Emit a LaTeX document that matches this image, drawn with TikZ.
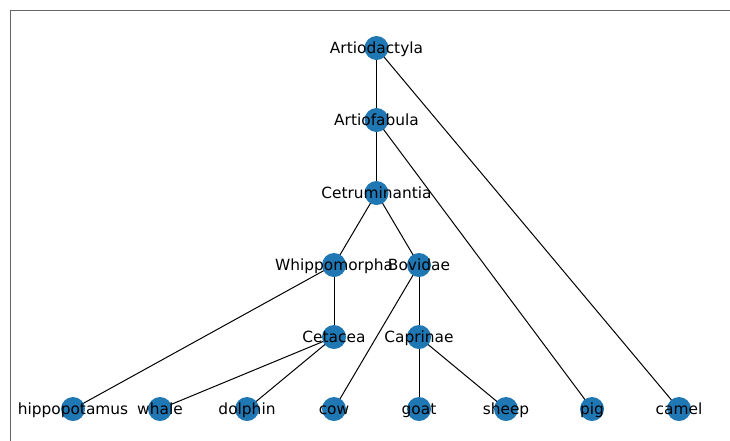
\documentclass[tikz,border=0pt]{standalone}
\usepackage{fontspec}
\setmainfont{DejaVu Sans}
\definecolor{nodeblue}{HTML}{1F77B4}
\pgfdeclarelayer{background}
\pgfsetlayers{background,main}
\tikzset{
  vert/.style={circle, fill=nodeblue, draw=none, minimum size=24pt, inner sep=0pt},
  lbl/.style={font=\fontsize{15.4pt}{18pt}\selectfont, text=black, inner sep=0pt,
              anchor=base},
  edge/.style={draw=black, line width=1pt},
  frame/.style={draw=black!60, line width=1.1pt}
}
% a vertex: name, position, caption printed across it
\newcommand\taxon[3]{%
  \node[vert] (#1) at (#2) {};
  \node[lbl] (#1-name) at ([yshift=-5.2pt]#1.center) {#3};}
\begin{document}
\begin{tikzpicture}[x=1pt,y=-1pt]
  \useasboundingbox (0,0) rectangle (730,440);
  \clip (0,0) rectangle (730,440);
  % axes frame, running past the right and bottom edges
  \draw[frame] (10.5,10.5) rectangle (760,470);

  % inner clades
  \taxon{artio}{376.5,48}{Artiodactyla}
  \taxon{fab}{376.5,120}{Artiofabula}
  \taxon{cet}{376.5,193}{Cetruminantia}
  \taxon{whip}{334,265}{Whippomorpha}
  \taxon{bov}{419,265}{Bovidae}
  \taxon{ceta}{334,337}{Cetacea}
  \taxon{cap}{419,337}{Caprinae}

  % leaves
  \taxon{hippo}{73,409}{hippopotamus}
  \taxon{whale}{160,409}{whale}
  \taxon{dolphin}{247,409}{dolphin}
  \taxon{cow}{334,409}{cow}
  \taxon{goat}{419,409}{goat}
  \taxon{sheep}{506,409}{sheep}
  \taxon{pig}{592,409}{pig}
  \taxon{camel}{679,409}{camel}

  % tree edges, drawn beneath the vertices
  \begin{pgfonlayer}{background}
    \draw[edge] (artio.center) -- (fab.center);
    \draw[edge] (artio.center) -- (camel.center);
    \draw[edge] (fab.center) -- (cet.center);
    \draw[edge] (fab.center) -- (pig.center);
    \draw[edge] (cet.center) -- (whip.center);
    \draw[edge] (cet.center) -- (bov.center);
    \draw[edge] (whip.center) -- (hippo.center);
    \draw[edge] (whip.center) -- (ceta.center);
    \draw[edge] (ceta.center) -- (whale.center);
    \draw[edge] (ceta.center) -- (dolphin.center);
    \draw[edge] (bov.center) -- (cow.center);
    \draw[edge] (bov.center) -- (cap.center);
    \draw[edge] (cap.center) -- (goat.center);
    \draw[edge] (cap.center) -- (sheep.center);
  \end{pgfonlayer}
\end{tikzpicture}
\end{document}
